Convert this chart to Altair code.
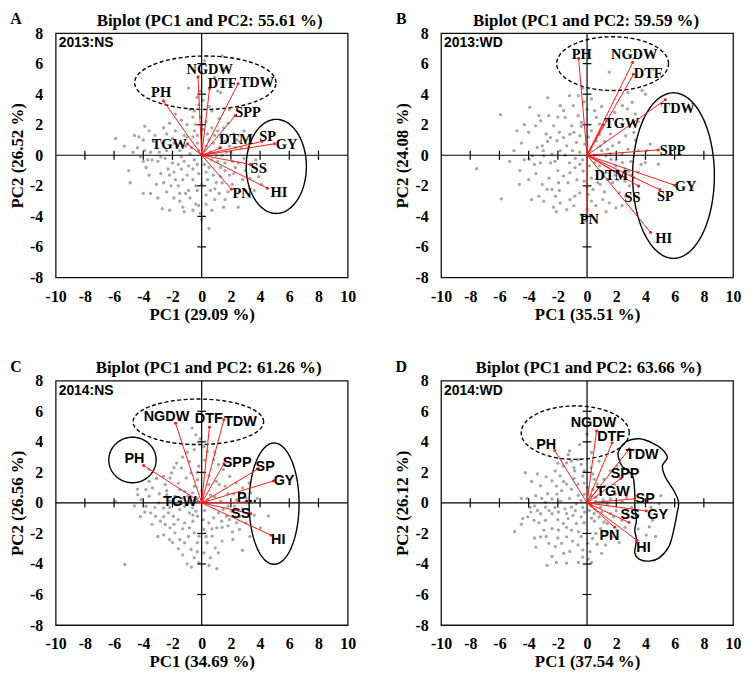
import numpy as np
import pandas as pd
import altair as alt

SERIF = "Liberation Serif"
SANS = "Liberation Sans"
GREY = "#a6a6a6"
RED = "#ff1a1a"

# ---------------- panel meta ----------------
panel_letters = ["A", "B", "C", "D"]
panel_titles = ["Biplot (PC1 and PC2: 55.61 %)", "Biplot (PC1 and PC2: 59.59 %)",
                "Biplot (PC1 and PC2: 61.26 %)", "Biplot (PC1 and PC2: 63.66 %)"]
panel_tags = ["2013:NS", "2013:WD", "2014:NS", "2014:WD"]
x_titles = ["PC1 (29.09 %)", "PC1 (35.51 %)", "PC1 (34.69 %)", "PC1 (37.54 %)"]
y_titles = ["PC2 (26.52 %)", "PC2 (24.08 %)", "PC2 (26.56 %)", "PC2 (26.12 %)"]
var_fonts = [SERIF, SERIF, SANS, SANS]
title_x = [155, 146, 154, 148.5]

x_cross_ticks = [-8, -6, -4, -2, 2, 4, 6, 8]
y_cross_ticks = [-6, -4, -2, 2, 4, 6]

# ---------------- panel A: 2013:NS ----------------
A_scores = [(-5.9,1.1),(-4.9,-1.8),(-4.6,1.3),(-4.3,1.2),(-4.0,1.0),(-3.6,1.6),(-3.9,1.9),(-4.4,0.5),(-4.2,-0.1),(-4.0,-0.4),
            (-3.8,-0.8),(-3.4,-0.3),(-3.0,-0.4),(-2.8,-0.1),(-2.7,0.8),(-2.4,1.4),(-2.6,1.8),(-2.2,2.1),(-3.1,0.5),(-3.5,0.2),
            (-3.6,-1.3),(-2.8,-1.2),(-2.2,-1.3),(-1.9,-1.1),(-2.6,-1.8),(-2.1,-2.0),(-1.6,-2.0),(-1.3,-1.6),(-1.1,-2.5),(-0.9,-2.3),
            (-1.5,-2.5),(-4.0,-2.5),(-3.5,-2.5),(-2.7,-3.5),(-2.2,-3.6),(-1.3,-3.4),(-1.2,-3.7),(-0.8,-2.8),(-0.4,-3.2),(-0.2,-3.3),
            (-0.1,-3.8),(0.0,-4.2),(0.5,-4.8),(0.3,-3.2),(0.6,-2.3),(1.0,-1.8),(1.2,-2.5),(1.4,-1.8),(1.3,-1.4),(1.6,-1.0),
            (1.9,-1.3),(2.2,-1.2),(2.3,-0.8),(2.5,-0.5),(3.0,-1.0),(3.3,-1.5),(2.8,-1.6),(3.7,-0.3),(3.9,-1.4),(4.1,-1.9),
            (0.2,-0.6),(0.5,-0.8),(0.7,-0.3),(-0.3,-0.6),(-0.5,-0.3),(-0.9,-0.7),(-1.2,-0.4),(-1.4,-0.1),(-1.5,0.3),(-1.7,0.5),
            (-0.7,0.5),(-0.3,0.8),(-0.6,1.2),(-1.0,1.2),(-1.2,1.3),(-1.9,0.8),(-2.0,1.1),(-0.5,1.6),(-0.4,2.0),(-0.1,2.5),
            (0.1,1.7),(0.4,1.4),(0.7,1.8),(1.1,1.6),(1.3,1.2),(0.8,0.8),(1.2,0.5),(1.0,0.0),(-0.8,3.0),(-0.5,2.9),
            (-0.2,3.3),(0.1,3.6),(0.7,2.9),(1.2,2.4),(1.5,1.8),(1.8,2.1),(2.2,1.4),(2.4,1.0),(2.7,0.5),(3.0,0.8),
            (3.2,0.5),(2.3,0.5),(2.0,0.2),(1.7,0.2),(1.4,0.0),(1.1,-0.4),(1.6,-0.5),(1.4,6.5),(1.3,4.1),(1.4,5.6),
            (1.1,4.2),(0.2,6.2),(0.9,5.1),(-0.6,2.5),(0.3,2.2),(-2.4,0.3),(-2.0,-0.5),(-1.0,-1.3),(-0.6,-1.6),(0.0,-1.9),
            (0.3,-1.1),(2.6,-2.3),(1.8,-2.4),(2.5,-3.4),(0.9,-2.9),(-0.3,-2.3),(-5.0,-1.0),
            (-0.2,0.3),(0.3,0.6),(0.6,0.2),(-0.8,0.1),(-1.1,0.6),(-1.6,-0.6),(-2.3,-0.9),(-2.9,0.2),(-3.3,0.9),(-3.9,0.3),
            (-4.7,0.2),(-5.3,0.6),(-3.2,1.3),(-2.1,0.6),(-1.8,1.6),(-1.4,2.3),(-1.0,2.0),(-0.3,1.3),(0.5,1.0),(0.9,1.3),
            (1.6,0.9),(1.9,0.6),(2.6,0.9),(2.9,-0.2),(2.1,-0.4),(1.3,-0.8),(0.8,-1.3),(0.4,-1.6),(-0.2,-1.2),(-0.6,-0.9),
            (-1.4,-0.9),(-1.8,-1.6),(-2.4,-2.4),(-3.1,-1.9),(-3.0,-2.8),(-1.9,-2.8),(-0.6,-3.6),(0.3,-2.6),(0.9,-2.2),(1.6,-2.9),
            (2.1,-1.9),(3.4,-0.6),(4.4,-1.0),(3.6,-2.3),(-0.1,4.2),(-0.3,3.8),(0.5,3.2),(1.9,3.0),(2.9,1.6),(-0.9,4.4),
            (0.0,5.4),(-1.5,-3.0),(-2.5,-0.2),(-3.7,-0.3),(-0.4,-2.0),(0.7,-3.6),(1.5,-3.4),(-1.8,2.7)]
A_vars = ["NGDW", "DTF", "TDW", "PH", "SPP", "SP", "GY", "DTM", "TGW", "SS", "HI", "PN"]
A_tip_x = [-0.25, 0.54, 2.49, -2.62, 2.31, 4.12, 4.98, 1.29, -0.97, 3.33, 4.50, 2.04]
A_tip_y = [5.13, 4.36, 4.68, 3.55, 2.61, 0.90, 0.75, 0.47, 0.73, -0.60, -2.16, -2.22]
A_lab_x = [0.55, 1.4, 3.78, -2.78, 3.17, 4.52, 5.81, 2.35, -2.22, 3.9, 5.29, 2.76]
A_lab_y = [5.6, 4.65, 4.75, 4.06, 2.78, 1.22, 0.64, 1.0, 0.68, -0.92, -2.48, -2.52]
A_dashed = [(0.25, 4.75, 4.84, 1.75)]
A_solid = [(5.11, -0.73, 2.06, 3.08)]

# ---------------- panel B: 2013:WD ----------------
B_scores = [(-7.56,-0.88),(-5.87,-2.86),(-5.92,2.66),(-4.64,-1.91),(-4.30,2.00),(-3.92,3.14),(-3.52,1.93),(-3.18,2.26),(-2.69,3.76),(-2.62,2.59),
            (-2.29,1.93),(-1.84,3.25),(-1.61,2.92),(-1.50,2.48),(-0.94,3.25),(-0.61,2.59),(-0.38,2.15),(-1.05,1.93),(-1.17,1.38),(-1.61,1.16),
            (-2.06,0.95),(-2.51,1.16),(-3.07,0.62),(-3.41,0.51),(-3.74,-0.04),(-3.97,-0.26),(-2.96,-0.04),(-2.40,0.07),(-1.84,0.29),(-1.39,0.62),
            (-0.72,0.84),(-0.49,1.27),(-0.16,0.73),(0.29,0.51),(0.63,0.95),(0.85,1.38),(0.52,2.92),(0.63,2.48),(0.85,2.04),(1.30,2.26),
            (1.52,5.45),(2.42,3.25),(2.76,3.03),(3.09,3.47),(3.77,4.24),(3.21,1.49),(2.65,1.27),(2.20,0.84),(1.75,0.62),(1.41,0.40),
            (1.30,-0.04),(1.64,-0.26),(1.97,-0.70),(2.42,-0.48),(2.87,-1.03),(3.21,-1.47),(3.54,-2.02),(3.99,-0.48),(4.33,0.73),(4.89,-0.59),
            (1.08,-1.36),(0.74,-1.80),(0.40,-2.24),(0.07,-2.57),(-0.49,-2.46),(-0.83,-2.68),(-1.17,-2.90),(-1.39,-3.56),(-1.84,-3.12),(-2.17,-2.68),
            (-2.74,-2.24),(-3.07,-1.91),(-3.30,-2.68),(-2.96,-3.01),(-2.40,-2.24),(-1.95,-1.80),(-1.61,-1.36),(-1.17,-1.14),(-0.83,-0.81),(-0.49,-0.59),
            (-0.27,-1.03),(0.18,-0.70),(0.52,-0.48),(0.85,-0.70),(1.30,-1.14),(1.75,-1.80),(2.20,-2.46),(2.65,-2.68),(1.97,-3.45),(1.52,-3.12),
            (1.08,-2.90),(-1.0,0.3),(-0.5,0.2),(0.2,0.3),(-0.3,-0.3),(-2.5,-0.5),(-2.0,-1.0),(-1.2,-0.5),(-3.5,-1.2),(-4.5,0.8),
            (-4.0,1.5),(-2.8,1.4),(0.3,1.6),(-0.2,3.5),(0.0,3.0),(2.1,-1.6),(2.6,-1.7),(2.9,-2.0),(3.5,-1.1),(3.0,-0.4),
            (3.5,0.3),(2.8,0.4),(0.6,-3.3),(-0.4,-3.9),(-2.3,-3.4),(-4.6,-1.0),(-5.0,0.3),(-3.2,-0.5),(1.2,0.9),(1.6,1.4),
            (3.3,2.7),(4.0,4.0),
            (-1.5,0.0),(-0.8,-0.2),(0.5,0.0),(1.0,0.3),(-2.2,-0.4),(-3.0,0.3),(-2.7,0.9),(-1.9,1.5),(-0.9,1.5),(-0.4,1.9),
            (0.1,1.2),(0.9,0.6),(1.6,0.1),(2.4,0.1),(2.0,-0.3),(2.6,-0.9),(1.9,-1.3),(1.4,-1.6),(0.9,-1.9),(0.3,-1.5),
            (-0.2,-1.7),(-0.7,-1.6),(-1.3,-1.8),(-1.9,-2.3),(-2.6,-1.5),(-3.6,-0.6),(-4.3,-0.3),(-4.0,-1.6),(-3.8,-2.9),(-2.1,-3.7),
            (-0.9,-3.3),(0.3,-3.0),(1.2,-2.4),(2.4,-3.3),(3.0,-1.3),(3.7,-0.6),(4.1,0.3),(3.3,1.0),(2.4,2.0),(1.9,2.8),
            (1.0,3.2),(0.3,3.7),(-0.6,3.9),(-1.2,3.9),(-2.0,2.5),(-3.3,2.6),(-4.8,1.6),(-5.3,-0.4),(-0.3,4.4),(2.8,4.1),
            (3.5,2.2),(0.0,-2.1),(-0.1,-4.3),(1.3,-3.7)]
B_vars = ["PH", "NGDW", "DTF", "TDW", "TGW", "SPP", "GY", "SP", "DTM", "SS", "HI", "PN"]
B_tip_x = [-0.58, 3.12, 3.18, 5.36, 1.10, 4.87, 5.99, 4.98, 2.60, 3.52, 4.35, 0.00]
B_tip_y = [6.33, 6.07, 5.30, 3.63, 2.00, 0.35, -1.96, -2.26, -1.45, -2.02, -5.05, -3.56]
B_lab_x = [-0.36, 3.23, 4.19, 6.21, 2.38, 5.85, 6.75, 5.36, 1.66, 3.12, 5.25, 0.16]
B_lab_y = [6.55, 6.55, 5.34, 3.03, 2.04, 0.29, -2.09, -2.75, -1.36, -2.79, -5.47, -4.22]
B_dashed = [(1.75, 6.0, 3.83, 1.76)]
B_solid = [(5.92, -1.33, 2.8, 5.42)]

# ---------------- panel C: 2014:NS ----------------
C_scores = [(-5.26,-4.03),(-3.60,1.41),(-3.82,0.87),(-3.38,0.98),(-2.61,1.74),(-2.50,1.20),(-2.17,1.63),(-2.06,1.96),(-1.72,2.61),(-1.39,2.29),
            (-1.06,1.63),(-0.73,1.96),(-0.84,2.72),(-0.51,3.48),(-0.66,4.90),(-0.40,4.46),(0.15,3.70),(0.38,3.37),(0.82,2.83),(1.15,2.50),
            (1.48,2.18),(1.92,1.74),(2.36,1.31),(2.81,0.98),(3.25,1.31),(3.36,0.65),(3.03,0.33),(2.25,-0.22),(2.03,-0.54),(1.70,-0.87),
            (1.37,-1.20),(1.04,-1.63),(0.71,-2.18),(0.38,-2.61),(0.15,-3.27),(-0.18,-3.92),(-0.51,-3.59),(-0.73,-3.05),(-1.17,-2.61),(-1.50,-2.39),
            (-1.83,-1.96),(-2.17,-1.63),(-2.50,-1.41),(-2.83,-1.20),(-3.16,-0.87),(-3.49,-0.65),(-3.82,-0.22),(-4.15,0.22),(-4.38,0.54),(-3.60,0.44),
            (-2.94,0.00),(-2.61,-0.33),(-2.28,-0.65),(-1.94,-0.87),(-1.61,-1.09),(-1.17,-1.31),(-0.84,-1.63),(-0.51,-1.96),(-0.18,-2.18),(0.15,-1.74),
            (0.49,-1.31),(0.82,-0.98),(1.15,-0.65),(1.48,-0.44),(1.81,-0.22),(0.93,-2.94),(1.15,-3.27),(1.04,-4.31),(2.14,-2.39),(2.59,-1.74),
            (3.03,-1.31),(4.02,-1.63),(4.57,-0.86),(-1.50,-0.44),(-1.17,-0.22),(-0.84,-0.65),(-0.62,-0.33),(-0.40,-0.54),(-0.29,-0.87),(-0.95,0.44),
            (-0.62,0.65),(-0.51,1.09),(-0.29,1.52),(-1.17,0.76),(-1.50,0.87),(-1.83,0.44),(-2.17,0.11),(-2.39,0.54),(-2.0,-2.6),(-2.6,-2.1),
            (-1.3,-3.4),(2.8,-3.1),(-1.0,-4.0),(0.5,-4.1),(-4.6,-0.2),(1.8,0.6),(2.4,0.2),(0.6,0.5),(0.2,-0.5),(-0.6,-1.2),
            (1.8,-1.5),(2.6,-0.9),(-3.0,-2.2),(-5.9,0.1),(-1.3,3.0),(0.5,1.8),(1.2,1.2),(-0.2,2.4),
            (-0.8,0.1),(-0.3,0.3),(0.4,0.2),(0.9,0.4),(1.3,0.1),(-1.3,0.3),(-1.8,-0.1),(-2.2,-0.3),(-2.9,0.6),(-3.2,-0.3),
            (-3.9,-0.6),(-2.6,-0.9),(-1.9,-1.4),(-1.3,-1.7),(-0.9,-2.2),(-0.3,-2.6),(0.3,-2.2),(0.7,-1.7),(1.4,-1.6),(1.9,-1.1),
            (2.4,-1.3),(2.8,-0.4),(2.2,0.6),(1.6,1.1),(1.0,1.4),(0.5,1.2),(0.0,0.8),(-0.3,2.0),(0.2,2.8),(0.9,3.3),
            (-0.1,4.2),(-1.0,3.3),(-1.6,1.3),(-2.4,0.8),(-3.1,1.6),(-1.9,2.3),(-0.3,-3.2),(0.6,-3.6),(-0.7,-4.2),(1.4,-2.5),
            (2.1,-1.9),(3.6,-0.8),(3.8,0.3),(3.3,-2.2),(-2.2,-2.4),(-1.6,-3.0),(-3.4,-1.4),(-4.2,-0.9),(-4.4,0.9),(-3.6,2.2),
            (-0.6,-0.8),(0.1,-1.1)]
C_vars = ["NGDW", "DTF", "TDW", "PH", "SPP", "SP", "GY", "P...", "SS", "HI", "TGW"]
C_tip_x = [-1.79, 0.53, 1.52, -3.98, 1.52, 3.87, 4.91, 3.0, 3.36, 4.75, -0.50]
C_tip_y = [5.21, 4.95, 5.45, 2.45, 2.56, 2.23, 1.43, 0.05, -0.71, -2.12, 0.15]
C_lab_x = [-2.41, 0.49, 2.65, -4.6, 2.43, 4.35, 5.64, 3.1, 2.67, 5.24, -1.5]
C_lab_y = [5.6, 5.5, 5.32, 2.88, 2.6, 2.38, 1.4, 0.3, -0.75, -2.41, 0.05]
C_dashed = [(-0.23, 5.31, 4.47, 1.49)]
C_solid = [(-4.74, 2.81, 1.62, 1.49), (4.96, -0.05, 1.71, 3.97)]

# ---------------- panel D: 2014:WD ----------------
D_scores = [(-4.96,-1.89),(-4.23,1.98),(-3.52,0.47),(-3.85,-0.60),(-3.40,-0.49),(-3.18,1.12),(-2.85,0.04),(-2.40,1.44),(-2.18,2.09),(-1.85,1.76),
            (-1.62,2.41),(-1.40,2.62),(-1.07,2.73),(-0.62,2.84),(-0.51,3.81),(-1.29,3.16),(-0.85,2.09),(-0.40,2.52),(-0.29,1.76),(-0.62,1.23),
            (-1.07,0.90),(-1.40,1.23),(-1.74,0.80),(-2.07,0.58),(-2.40,0.26),(-2.85,-0.28),(-3.18,-0.71),(-3.63,-1.14),(-4.07,-0.92),(-4.40,-1.03),
            (-2.85,-1.14),(-2.40,-0.71),(-1.96,-0.60),(-1.51,-0.39),(-1.07,-0.28),(-0.73,-0.06),(-0.40,0.15),(-0.96,-0.82),(-1.29,-1.03),(-1.62,-1.35),
            (-1.96,-1.78),(-2.40,-1.68),(-2.96,-1.78),(-3.18,-2.22),(-2.63,-2.65),(-2.18,-2.86),(-1.74,-2.65),(-1.40,-2.22),(-1.07,-1.78),(-0.73,-1.35),
            (-0.40,-0.92),(-0.18,-0.60),(0.16,-0.49),(0.49,-0.71),(0.82,-0.92),(1.16,-1.25),(1.38,-1.35),(0.93,-1.68),(0.60,-2.00),(0.38,-2.32),
            (0.04,-2.65),(-0.29,-3.08),(-0.62,-2.75),(-1.18,-3.18),(-2.40,-3.51),(-2.74,-4.09),(-0.29,-3.55),(0.09,-3.68),(1.27,-2.75),(1.71,-2.22),
            (2.05,-1.78),(2.38,-1.14),(2.71,-0.71),(3.05,-0.28),(2.71,0.37),(2.27,0.69),(1.94,0.58),(1.60,0.26),(1.38,-0.06),(0.93,-0.28),
            (0.93,0.80),(0.71,1.23),(0.49,1.55),(1.16,1.55),(1.60,2.09),(2.05,2.41),(0.82,2.73),(0.27,2.30),(0.04,1.01),(-0.18,0.58),
            (0.27,0.47),(0.60,0.37),(4.05,-2.11),(4.27,-1.57),(4.49,-1.14),(5.05,0.47),(4.94,-0.06),(4.38,-0.28),(-1.40,-3.94),(-3.5,-2.9),
            (-4.5,0.3),(-3.8,1.4),(0.5,-1.2),(1.8,-0.9),(2.2,-2.6),(3.5,-1.7),(4.7,-2.2),(3.9,-3.0),(0.3,-3.9),(0.0,4.5),
            (-0.6,0.5),(-1.2,0.3),(-1.8,0.1),(-2.2,-0.3),(-2.7,0.6),(-3.1,0.3),(-3.6,-0.2),(-4.1,0.3),(-3.3,-1.3),(-2.6,-0.5),
            (-2.0,-1.1),(-1.4,-0.7),(-0.8,-0.5),(-0.3,-0.3),(0.3,-0.2),(0.6,0.1),(1.1,0.2),(0.4,0.9),(-0.2,1.3),(-0.9,1.6),
            (-1.6,1.4),(-2.1,1.1),(-2.8,1.7),(-3.4,1.9),(-2.0,2.6),(-0.9,2.3),(-0.2,2.1),(0.4,1.9),(1.2,1.1),(1.9,1.2),
            (2.4,0.1),(2.0,-0.5),(1.6,-0.7),(1.0,-0.6),(0.3,-1.0),(-0.2,-1.3),(-0.6,-1.9),(-1.4,-1.6),(-2.0,-2.3),(-2.8,-2.2),
            (-3.6,-2.3),(-1.0,-2.5),(-0.4,-2.2),(0.7,-2.7),(1.3,-1.9),(2.6,-1.6),(3.1,-0.9),(-1.6,-3.3),(-2.1,-3.9),(-0.6,-3.9),
            (0.2,-3.2),(1.0,-3.3),(-4.5,-1.4),(-3.9,-0.3),(-1.2,3.4),(0.3,3.3)]
D_vars = ["NGDW", "DTF", "PH", "TDW", "SPP", "TGW", "SP", "GY", "SS", "PN", "HI"]
D_tip_x = [0.65, 1.71, -2.22, 2.89, 2.31, 0.80, 3.27, 4.05, 2.87, 1.89, 3.43]
D_tip_y = [4.71, 3.92, 3.43, 3.53, 1.60, 1.00, 0.27, -0.53, -1.28, -1.60, -2.46]
D_lab_x = [0.44, 1.65, -2.8, 3.78, 2.6, 1.78, 3.98, 4.83, 2.94, 1.53, 3.87]
D_lab_y = [5.25, 4.3, 3.81, 3.13, 1.88, 0.7, 0.27, -0.81, -0.81, -2.14, -2.95]
D_dashed = [(-0.81, 4.6, 3.7, 1.75)]
D_solid = []
D_blob_x = [2.16, 2.71, 3.60, 4.49, 5.16, 5.50, 5.16, 5.38, 5.94, 6.27, 6.16, 5.94, 5.61, 4.94,
            4.27, 3.60, 3.27, 3.38, 3.27, 3.38, 3.27, 3.27, 3.16, 2.83, 2.38, 2.16]
D_blob_y = [3.38, 4.03, 4.20, 3.92, 3.49, 2.95, 2.42, 1.66, 0.81, 0.05, -0.70, -1.77, -2.85, -3.60,
            -3.81, -3.70, -3.28, -2.42, -1.77, -1.13, -0.27, 0.59, 1.66, 2.09, 2.42, 2.95]

TICK_HALF = 0.3


def ellipse_frame(ells):
    rows = []
    for k, (cx, cy, rx, ry) in enumerate(ells):
        for j in range(145):
            t = 2 * np.pi * j / 144
            rows.append({"e": k, "o": j, "x": cx + rx * np.cos(t), "y": cy + ry * np.sin(t)})
    return pd.DataFrame(rows, columns=["e", "o", "x", "y"])


def make_panel(k, scores, names, tip_x, tip_y, lab_x, lab_y, dashed, solid, blob=None):
    xs = alt.Scale(domain=[-10, 10], nice=False, zero=False)
    ys = alt.Scale(domain=[-8, 8], nice=False, zero=False)
    common = dict(labelFont=SERIF, labelFontSize=16, labelFontWeight="bold", titleFont=SERIF,
                  titleFontSize=17, titleFontWeight="bold", ticks=False, domain=False, grid=False,
                  labelColor="black", titleColor="black", labelFlush=False, labelOverlap=False,
                  labelExpr="'' + datum.value")
    xa = alt.Axis(tickCount=11, title=x_titles[k], labelPadding=11, titlePadding=2, **common)
    ya = alt.Axis(tickCount=9, title=y_titles[k], labelPadding=13, titlePadding=3, **common)

    def X(f):
        return alt.X(f, type="quantitative", scale=xs, axis=xa)

    def Y(f):
        return alt.Y(f, type="quantitative", scale=ys, axis=ya)

    pts = pd.DataFrame(scores, columns=["x", "y"])
    points = alt.Chart(pts).mark_circle(size=11, color=GREY, opacity=1).encode(x=X("x"), y=Y("y"))

    cross = pd.DataFrame({"x": [-10, 0], "x2": [10, 0], "y": [0, -8], "y2": [0, 8]})
    cross_l = alt.Chart(cross).mark_rule(color="black", strokeWidth=1.2).encode(
        x=X("x"), x2="x2", y=Y("y"), y2="y2")

    tk = pd.DataFrame({
        "x": x_cross_ticks + [-TICK_HALF] * len(y_cross_ticks),
        "x2": x_cross_ticks + [TICK_HALF] * len(y_cross_ticks),
        "y": [-TICK_HALF] * len(x_cross_ticks) + y_cross_ticks,
        "y2": [TICK_HALF] * len(x_cross_ticks) + y_cross_ticks,
    })
    ticks_l = alt.Chart(tk).mark_rule(color="black", strokeWidth=1.2).encode(
        x=X("x"), x2="x2", y=Y("y"), y2="y2")

    layers = [points, cross_l, ticks_l]

    if dashed:
        layers.append(alt.Chart(ellipse_frame(dashed)).mark_line(
            color="black", strokeWidth=1.4, strokeDash=[4, 2.5]).encode(
            x=X("x"), y=Y("y"), order="o:Q", detail="e:N"))
    if solid:
        layers.append(alt.Chart(ellipse_frame(solid)).mark_line(
            color="black", strokeWidth=1.4).encode(
            x=X("x"), y=Y("y"), order="o:Q", detail="e:N"))
    if blob is not None:
        bdf = pd.DataFrame({"x": blob[0], "y": blob[1], "o": list(range(len(blob[0])))})
        layers.append(alt.Chart(bdf).mark_line(
            color="black", strokeWidth=1.4, interpolate="cardinal-closed").encode(
            x=X("x"), y=Y("y"), order="o:Q"))

    arr = pd.DataFrame({"var": names, "ox": 0.0, "oy": 0.0, "tx": tip_x, "ty": tip_y,
                        "lx": lab_x, "ly": lab_y})
    arrows = alt.Chart(arr).mark_rule(color=RED, strokeWidth=1).encode(
        x=X("ox"), x2="tx", y=Y("oy"), y2="ty")
    tips = alt.Chart(arr).mark_circle(size=9, color=RED, opacity=1).encode(x=X("tx"), y=Y("ty"))
    labels = alt.Chart(arr).mark_text(font=var_fonts[k], fontSize=14.5, fontWeight="bold",
                                      color="black", align="center", baseline="middle").encode(
        x=X("lx"), y=Y("ly"), text="var:N")
    layers += [arrows, tips, labels]

    meta = pd.DataFrame({"tag": [panel_tags[k]], "letter": [panel_letters[k]],
                         "title": [panel_titles[k]]})
    tag = alt.Chart(meta).mark_text(
        font=SANS, fontSize=14, fontWeight="bold", color="black", align="left", baseline="middle").encode(
        x=alt.value(3), y=alt.value(10), text="tag:N")
    letter = alt.Chart(meta).mark_text(
        font=SERIF, fontSize=16, fontWeight="bold", color="black", align="center", baseline="middle").encode(
        x=alt.value(-40), y=alt.value(-14), text="letter:N")
    title = alt.Chart(meta).mark_text(
        font=SERIF, fontSize=17, fontWeight="bold", color="black", align="center", baseline="middle").encode(
        x=alt.value(title_x[k]), y=alt.value(-12.5), text="title:N")
    layers += [tag, letter, title]

    return alt.layer(*layers).properties(width=294, height=246)


pA = make_panel(0, A_scores, A_vars, A_tip_x, A_tip_y, A_lab_x, A_lab_y, A_dashed, A_solid)
pB = make_panel(1, B_scores, B_vars, B_tip_x, B_tip_y, B_lab_x, B_lab_y, B_dashed, B_solid)
pC = make_panel(2, C_scores, C_vars, C_tip_x, C_tip_y, C_lab_x, C_lab_y, C_dashed, C_solid)
pD = make_panel(3, D_scores, D_vars, D_tip_x, D_tip_y, D_lab_x, D_lab_y, D_dashed, D_solid,
                blob=(D_blob_x, D_blob_y))

chart = alt.concat(pA, pB, pC, pD, columns=2, spacing={"row": 104, "column": 94},
                   bounds="flush").properties(padding=0).configure_view(
    stroke="#111111", strokeWidth=1.3)

chart.save("out.html", embed_options={"renderer": "svg", "actions": False})
